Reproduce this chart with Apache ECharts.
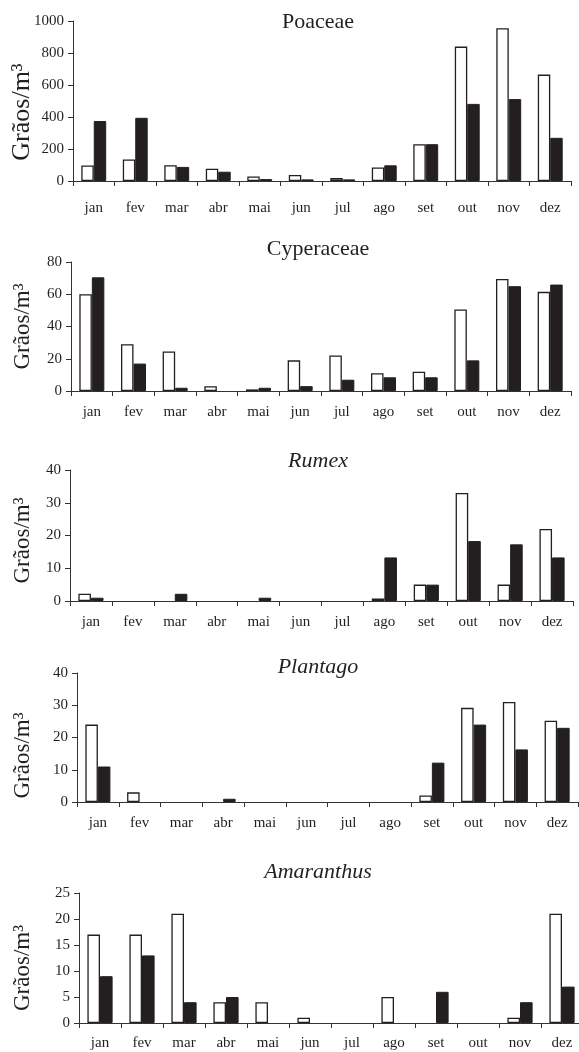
<!DOCTYPE html>
<html>
<head>
<meta charset="utf-8">
<script src="https://cdn.jsdelivr.net/npm/echarts@6/dist/echarts.min.js"></script>
<style>
html,body{margin:0;padding:0;background:#fff;}
#chart{width:579px;height:1052px;}
</style>
</head>
<body>
<div id="chart"></div>
<script>
const months = ['jan','fev','mar','abr','mai','jun','jul','ago','set','out','nov','dez'];

const taxa = ['Poaceae','Cyperaceae','Rumex','Plantago','Amaranthus'];
const italicTaxa = [false,false,true,true,true];

const poaceaeWhite = [97, 135, 98, 77, 28, 38, 18, 85, 230, 840, 955, 665];
const poaceaeBlack = [375, 395, 88, 58, 12, 10, 10, 98, 230, 482, 512, 270];
const cyperaceaeWhite = [60, 29, 24.5, 3, 1, 19, 22, 11, 12, 50.5, 69.5, 61.5];
const cyperaceaeBlack = [70.5, 17, 2, 0, 2, 3, 7, 8.5, 8.5, 19, 65, 66];
const rumexWhite = [2.2, 0, 0, 0, 0, 0, 0, 0.8, 5, 33, 5, 22];
const rumexBlack = [1, 0, 2.2, 0, 1, 0, 0, 13.3, 5, 18.3, 17.3, 13.3];
const plantagoWhite = [24, 3, 0, 0, 0, 0, 0, 0, 2, 29.2, 31, 25.2];
const plantagoBlack = [11, 0, 0, 1, 0, 0, 0, 0, 12.2, 24, 16.3, 23];
const amaranthusWhite = [17, 17, 21, 4, 4, 1, 0, 5, 0, 0, 1, 21];
const amaranthusBlack = [9, 13, 4, 5, 0, 0, 0, 0, 6, 0, 4, 7];

const yMax = [1000, 80, 40, 40, 25];
const yInterval = [200, 20, 10, 10, 5];
const yAxisName = 'Grãos/m³';

const whiteData = [poaceaeWhite, cyperaceaeWhite, rumexWhite, plantagoWhite, amaranthusWhite];
const blackData = [poaceaeBlack, cyperaceaeBlack, rumexBlack, plantagoBlack, amaranthusBlack];

// layout (pixels)
const grids = [
  {left: 73, top: 21, width: 498, height: 160},
  {left: 71, top: 262, width: 500, height: 129},
  {left: 70, top: 470, width: 503, height: 131},
  {left: 77, top: 673, width: 501, height: 129},
  {left: 79, top: 893, width: 504, height: 130}
];
const titleTops = [11, 238, 450, 656, 861];
const nameShift = [22, 0, 10, 36, 20];
const nameSize = [26, 23, 23, 23, 23];
const nameGaps = [38, 37, 36, 43, 45];
const labelMargin = [20, 14, 14, 14, 13];

const FONT = '"Liberation Serif","DejaVu Serif",serif';
const INK = '#231f20';

// zero values draw no bar
const toBars = arr => arr.map(v => (v === 0 ? '-' : v));

const option = {
  animation: false,
  backgroundColor: '#fff',
  title: taxa.map((t, i) => ({
    text: t,
    left: 318,
    top: titleTops[i],
    textAlign: 'center',
    padding: 0,
    textStyle: {fontFamily: FONT, fontSize: 22, fontWeight: 'normal', fontStyle: italicTaxa[i] ? 'italic' : 'normal', color: INK}
  })),
  grid: grids.map(g => Object.assign({containLabel: false, outerBoundsMode: 'none'}, g)),
  xAxis: grids.map((g, i) => ({
    type: 'category',
    gridIndex: i,
    data: months,
    boundaryGap: true,
    axisLine: {lineStyle: {color: '#333', width: 1}},
    axisTick: {show: true, length: 5, lineStyle: {color: '#333'}},
    axisLabel: {fontFamily: FONT, fontSize: 15, color: INK, margin: labelMargin[i], interval: 0}
  })),
  yAxis: grids.map((g, i) => ({
    type: 'value',
    gridIndex: i,
    min: 0,
    max: yMax[i],
    interval: yInterval[i],
    splitLine: {show: false},
    axisLine: {show: true, lineStyle: {color: '#333', width: 1}},
    axisTick: {show: true, length: 5, lineStyle: {color: '#333'}},
    axisLabel: {fontFamily: FONT, fontSize: 15, color: INK, margin: 9, formatter: v => String(v)},
    name: yAxisName,
    nameLocation: 'middle',
    nameGap: nameGaps[i],
    nameMoveOverlap: false,
    nameTextStyle: {fontFamily: FONT, fontSize: nameSize[i], color: INK, padding: [0, nameShift[i], 0, 0]}
  })),
  series: []
};

for (let i = 0; i < 5; i++) {
  option.series.push({
    type: 'bar', name: 'claro', xAxisIndex: i, yAxisIndex: i,
    data: toBars(whiteData[i]), barWidth: '30%', barGap: '0%',
    itemStyle: {color: '#fff', borderColor: INK, borderWidth: 1.3}
  });
  option.series.push({
    type: 'bar', name: 'escuro', xAxisIndex: i, yAxisIndex: i,
    data: toBars(blackData[i]), barWidth: '30%', barGap: '0%',
    itemStyle: {color: INK, borderColor: INK, borderWidth: 1}
  });
}

const chart = echarts.init(document.getElementById('chart'), null, {renderer: 'canvas'});
chart.setOption(option);
</script>
</body>
</html>
